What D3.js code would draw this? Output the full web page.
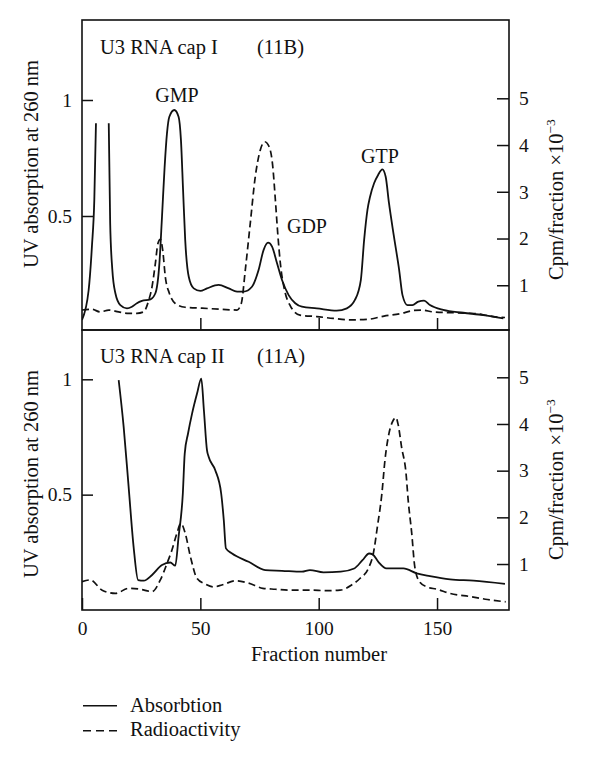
<!DOCTYPE html>
<html>
<head>
<meta charset="utf-8">
<script src="https://cdn.jsdelivr.net/npm/d3@7/dist/d3.min.js"></script>
<style>
  html, body { margin: 0; padding: 0; background: #fff; }
  svg { display: block; }
  text { font-family: "Liberation Serif", "Times New Roman", serif; fill: #111; }
</style>
</head>
<body>
<svg id="chart" width="600" height="761"></svg>
<script>
// ---------- DATA ----------
const fractionTicks = [0, 50, 100, 150];
const absorbTicks = [0.5, 1];
const cpmTicks = [1, 2, 3, 4, 5];
const panelTitles = ["U3 RNA cap I", "U3 RNA cap II"];
const panelCodes = ["(11B)", "(11A)"];
const peakLabels = ["GMP", "GDP", "GTP"];
const legendLabels = ["Absorbtion", "Radioactivity"];

// Cap I (11B) absorbance at 260 nm (null = off-scale break)
const capIAbsorption = [
  [0,0.052],[2.8,0.18],[4.2,0.37],[5.2,0.57],[5.9,0.90],[8.6,null],
  [11.3,0.90],[11.9,0.47],[12.8,0.27],[14.1,0.167],[16.2,0.116],[19,0.102],[21.1,0.109],
  [23.2,0.124],[25.3,0.134],[28.9,0.141],[31,0.167],[32.7,0.296],[33.8,0.497],[34.9,0.71],
  [35.9,0.856],[36.9,0.928],[39,0.957],[40.8,0.928],[41.8,0.828],[42.7,0.612],[43.6,0.397],
  [45.1,0.238],[47.2,0.188],[50,0.177],[52.8,0.188],[57.7,0.203],[62,0.188],[65.5,0.174],
  [68.3,0.174],[71.8,0.195],[74.6,0.267],[76.7,0.353],[78.6,0.385],[80.3,0.368],[82.4,0.296],
  [84.5,0.224],[87.3,0.159],[90.1,0.124],[92.9,0.109],[99.2,0.102],[107.6,0.092],[111.9,0.102],
  [115.3,0.138],[117.8,0.224],[119.2,0.397],[120.6,0.526],[121.7,0.583],[123.4,0.641],
  [125.1,0.677],[126.9,0.701],[128.3,0.669],[129.7,0.555],[131.8,0.411],[134,0.267],
  [135.4,0.159],[137.5,0.116],[139.6,0.116],[142.1,0.131],[144.5,0.135],[147,0.116],
  [152.6,0.095],[161.1,0.083],[169.5,0.073],[178,0.059]
];
// Cap I (11B) radioactivity, cpm/fraction x10^-3
const capIRadio = [
  [0,0.47],[4.2,0.485],[7.7,0.43],[11.3,0.47],[15.5,0.43],[19.7,0.40],[23.2,0.40],[26,0.43],
  [28.2,0.68],[29.6,0.97],[31,1.47],[32.1,1.90],[33.1,1.98],[34.1,1.75],[35.2,1.18],[36.9,0.83],
  [39.4,0.61],[43.6,0.53],[50.7,0.51],[59.1,0.485],[65.5,0.47],[67.3,0.61],[69,1.33],[71.1,2.33],
  [73.2,3.32],[75.3,3.89],[77.2,4.07],[79.1,3.96],[80.6,3.54],[81.7,2.82],[82.8,2.04],[83.8,1.47],
  [85.9,0.83],[88,0.56],[92.1,0.36],[99.2,0.33],[106.2,0.29],[113.6,0.26],[120.6,0.27],
  [127.6,0.34],[134.3,0.39],[140,0.46],[143.5,0.47],[148.4,0.43],[158.3,0.41],[166.8,0.39],
  [173.8,0.33],[178.7,0.31]
];
// Cap II (11A) absorbance at 260 nm
const capIIAbsorption = [
  [15.5,0.996],[17.6,0.794],[19.7,0.534],[21.8,0.274],[23.7,0.13],[26.1,0.127],[29.6,0.152],
  [33.8,0.195],[37.3,0.206],[39.4,0.192],[40.8,0.317],[42.6,0.505],[43.4,0.678],[44.8,0.765],
  [46.5,0.851],[48.6,0.938],[50.4,1.003],[51.5,0.866],[52.8,0.693],[53.5,0.664],[56.3,0.606],
  [58.8,0.505],[59.9,0.39],[60.8,0.267],[63.4,0.245],[70.4,0.209],[77.4,0.173],[84.5,0.17],
  [92.9,0.166],[96.3,0.173],[102,0.163],[109.3,0.166],[115,0.18],[118.5,0.216],[121.3,0.245],
  [122.8,0.241],[125.2,0.209],[128.6,0.18],[135.8,0.18],[141.4,0.159],[147,0.147],[155.5,0.133],
  [165.4,0.127],[178.7,0.113]
];
// Cap II (11A) radioactivity, cpm/fraction x10^-3
const capIIRadio = [
  [0,0.62],[3.5,0.66],[8.5,0.44],[14.1,0.37],[19.7,0.48],[24.6,0.46],[29.6,0.41],[33.1,0.66],
  [35.9,1.01],[38,1.30],[40.1,1.66],[41.8,1.87],[43.6,1.66],[45.8,1.16],[48.6,0.69],[52.1,0.57],
  [55.6,0.51],[59.1,0.55],[64.8,0.64],[70.4,0.59],[76.4,0.48],[81.7,0.46],[87.3,0.44],[96.3,0.44],
  [103.4,0.43],[109,0.44],[113.9,0.55],[117.4,0.69],[121,0.91],[123.1,1.23],[124.8,1.80],
  [126.7,2.51],[128,3.23],[129.7,3.80],[131.5,4.08],[132.6,4.14],[133.6,3.98],[135,3.51],
  [136.9,2.94],[137.8,2.37],[139.3,1.66],[140.6,0.94],[142.6,0.62],[145.7,0.51],[149.9,0.46],
  [155.5,0.37],[164.3,0.30],[171.3,0.24],[179,0.19]
];

// ---------- LAYOUT ----------
const svg = d3.select("#chart");
const left = 82, right = 509;
const x = d3.scaleLinear().domain([0, 180.4]).range([left, right]);

const panels = [
  { top: 20, bottom: 330, absZero: 332, absOne: 100, cpmZero: 332, cpmFive: 98.3,
    abs: capIAbsorption, radio: capIRadio, title: panelTitles[0], code: panelCodes[0],
    titleY: 54, leftTitleY: 164, rightTitleStart: 280, showXLabels: false },
  { top: 330, bottom: 610, absZero: 610, absOne: 379.3, cpmZero: 610.7, cpmFive: 377.3,
    abs: capIIAbsorption, radio: capIIRadio, title: panelTitles[1], code: panelCodes[1],
    titleY: 363, leftTitleY: 474, rightTitleStart: 560, showXLabels: true }
];

panels.forEach((p, i) => {
  const yA = d3.scaleLinear().domain([0, 1]).range([p.absZero, p.absOne]);
  const yC = d3.scaleLinear().domain([0, 5]).range([p.cpmZero, p.cpmFive]);
  const g = svg.append("g");

  const clipId = "clip" + i;
  svg.append("clipPath").attr("id", clipId).append("rect")
    .attr("x", left).attr("y", p.top).attr("width", right - left).attr("height", p.bottom - p.top);

  // frame
  g.append("rect").attr("x", left).attr("y", p.top)
    .attr("width", right - left).attr("height", p.bottom - p.top)
    .attr("fill", "none").attr("stroke", "#111").attr("stroke-width", 1.6);

  const la = g.append("g").attr("transform", `translate(${left},0)`)
    .call(d3.axisLeft(yA).tickValues(absorbTicks).tickSize(-11).tickPadding(10)
      .tickFormat(d => String(d)));
  const ra = g.append("g").attr("transform", `translate(${right},0)`)
    .call(d3.axisRight(yC).tickValues(cpmTicks).tickSize(-12).tickPadding(10)
      .tickFormat(d3.format("d")));
  const ba = g.append("g").attr("transform", `translate(0,${p.bottom})`)
    .call(d3.axisBottom(x).tickValues(p.showXLabels ? fractionTicks : fractionTicks.slice(1))
      .tickSize(-12).tickPadding(11.5)
      .tickFormat(p.showXLabels ? d3.format("d") : () => ""));
  [la, ra, ba].forEach(a => {
    a.select(".domain").remove();
    a.selectAll(".tick line").attr("stroke", "#111").attr("stroke-width", 1.5);
    a.selectAll(".tick text").attr("font-size", 19.5)
      .attr("font-family", '"Liberation Serif", serif').attr("fill", "#111");
  });

  // axis titles
  g.append("text")
    .attr("transform", `translate(38,${p.leftTitleY}) rotate(-90)`)
    .attr("text-anchor", "middle").attr("font-size", 20.5)
    .text("UV absorption at 260 nm");
  const rt = g.append("text")
    .attr("transform", `translate(563,${p.rightTitleStart}) rotate(-90)`)
    .attr("text-anchor", "start").attr("font-size", 20.5);
  rt.append("tspan").text("Cpm/fraction \u00d710");
  rt.append("tspan").attr("dy", -8).attr("font-size", 13.5).text("\u22123");

  // panel titles
  g.append("text").attr("x", 100).attr("y", p.titleY).attr("font-size", 20.5).text(p.title);
  g.append("text").attr("x", 257).attr("y", p.titleY).attr("font-size", 20.5).text(p.code);

  // curves
  const lineA = d3.line().defined(d => d[1] !== null)
    .x(d => x(d[0])).y(d => yA(d[1])).curve(d3.curveMonotoneX);
  const lineC = d3.line().x(d => x(d[0])).y(d => yC(d[1])).curve(d3.curveMonotoneX);
  const cg = g.append("g").attr("clip-path", `url(#${clipId})`);
  cg.append("path").datum(p.radio).attr("d", lineC)
    .attr("fill", "none").attr("stroke", "#111").attr("stroke-width", 1.7)
    .attr("stroke-dasharray", "7,4");
  cg.append("path").datum(p.abs).attr("d", lineA)
    .attr("fill", "none").attr("stroke", "#111").attr("stroke-width", 1.8)
    .attr("stroke-linejoin", "round");

  if (i === 0) {
    const lblPos = [[177, 102], [307, 233], [380, 163]];
    peakLabels.forEach((t, k) => {
      g.append("text").attr("x", lblPos[k][0]).attr("y", lblPos[k][1])
        .attr("text-anchor", "middle").attr("font-size", 20).text(t);
    });
  }
});

// x-axis title
svg.append("text").attr("x", 319).attr("y", 661).attr("text-anchor", "middle")
  .attr("font-size", 20.5).text("Fraction number");

// legend
const lg = svg.append("g");
lg.append("line").attr("x1", 83).attr("x2", 117).attr("y1", 705.7).attr("y2", 705.7)
  .attr("stroke", "#111").attr("stroke-width", 1.6);
lg.append("line").attr("x1", 83).attr("x2", 117).attr("y1", 730.7).attr("y2", 730.7)
  .attr("stroke", "#111").attr("stroke-width", 1.6).attr("stroke-dasharray", "8,5");
lg.append("text").attr("x", 130).attr("y", 712).attr("font-size", 20.5).text(legendLabels[0]);
lg.append("text").attr("x", 130).attr("y", 736).attr("font-size", 20.5).text(legendLabels[1]);
</script>
</body>
</html>
